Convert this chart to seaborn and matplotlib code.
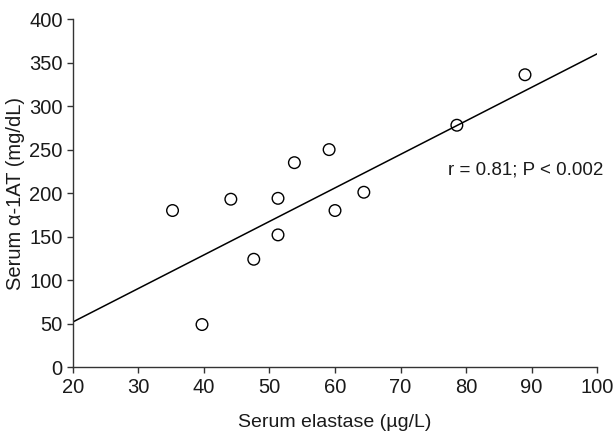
import pandas as pd
import seaborn as sns
from matplotlib import pyplot as plt

# values
elastase = [35.2, 39.7, 44.1, 47.6, 51.3, 51.3, 53.8, 59.1, 60.0, 64.4, 78.6, 89.0]
alpha1at = [180, 49, 193, 124, 194, 152, 235, 250, 180, 201, 278, 336]

# fitted line as drawn in the picture (end points)
fit_x = [20, 100]
fit_y = [52, 360]

x_ticks = [20, 30, 40, 50, 60, 70, 80, 90, 100]
y_ticks = [0, 50, 100, 150, 200, 250, 300, 350, 400]

df = pd.DataFrame({'elastase': elastase, 'alpha1at': alpha1at})
fit = pd.DataFrame({'x': fit_x, 'y': fit_y})

sns.set_style('ticks')
plt.rcParams['font.family'] = ['Liberation Sans', 'DejaVu Sans']

fig = plt.figure(figsize=(6.13, 4.33), dpi=100)
ax = fig.add_axes([0.119, 0.152, 0.855, 0.804])

sns.lineplot(data=fit, x='x', y='y', color='black', linewidth=1.1, ax=ax)
sns.scatterplot(data=df, x='elastase', y='alpha1at', s=70, facecolor='none',
                edgecolor='black', linewidth=1.0, ax=ax, zorder=3)

ax.set_xlim(20, 100)
ax.set_ylim(0, 400)
ax.set_xticks(x_ticks)
ax.set_yticks(y_ticks)
ax.tick_params(labelsize=14.5, length=4, width=1, color='#333333', labelcolor='#1a1a1a')
ax.tick_params(axis='x', pad=4)
for s in ['left', 'bottom']:
    ax.spines[s].set_color('#333333')
    ax.spines[s].set_linewidth(1)
sns.despine(ax=ax)

ax.set_xlabel('Serum elastase (µg/L)', fontsize=14, labelpad=12, color='#1a1a1a')
ax.set_ylabel('Serum α-1AT (mg/dL)', fontsize=14.5, labelpad=3, color='#1a1a1a')

ax.text(77.3, 226, 'r = 0.81; P < 0.002', fontsize=13.5, va='center', ha='left',
        color='#1a1a1a', clip_on=False)

fig.savefig('out.png', dpi=100)
